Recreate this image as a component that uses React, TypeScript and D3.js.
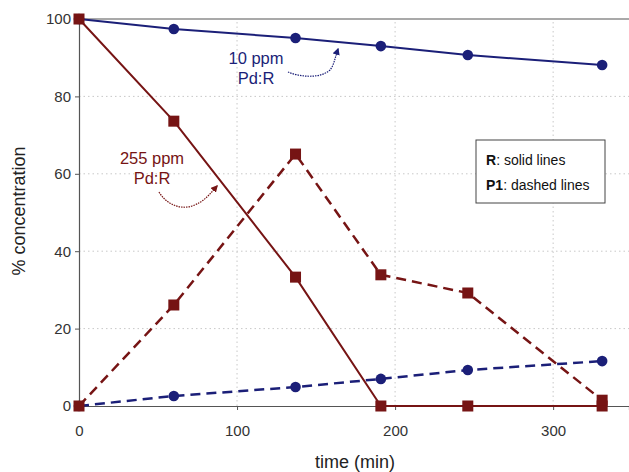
import React, { useEffect, useRef } from 'react';
import * as d3 from 'd3';

// sample times (min)
const times = [0, 60, 137, 191, 246, 331];

// % concentration for each series
const r10 = [100, 97.4, 95.1, 93.0, 90.7, 88.1];
const p1_10 = [0, 2.6, 4.9, 7.0, 9.3, 11.6];
const r255 = [100, 73.6, 33.3, 0, 0, 0];
const p1_255 = [0, 26.1, 65.1, 33.9, 29.2, 1.5];

const xTicks = [0, 100, 200, 300];
const yTicks = [0, 20, 40, 60, 80, 100];

const BLUE = '#1b1f78';
const RED = '#761414';

const App = () => {
    const ref = useRef<SVGSVGElement>(null);

    useEffect(() => {
        const svg = d3.select(ref.current);
        svg.selectAll('*').remove();

        const font = 'Liberation Sans, Arial, sans-serif';
        const x = d3.scaleLinear().domain([0, 348]).range([79, 629]);
        const y = d3.scaleLinear().domain([0, 100]).range([406, 19]);

        // gridlines
        const grid = svg.append('g').attr('stroke', '#c8c8c8').attr('stroke-dasharray', '1.5,3').attr('stroke-width', 1);
        xTicks.filter(t => t > 0).forEach(t => {
            grid.append('line').attr('x1', x(t)).attr('x2', x(t)).attr('y1', y(0)).attr('y2', y(100));
        });
        yTicks.filter(t => t > 0 && t < 100).forEach(t => {
            grid.append('line').attr('x1', x(0)).attr('x2', 629).attr('y1', y(t)).attr('y2', y(t));
        });

        // frame: top border
        svg.append('line').attr('x1', x(0)).attr('x2', 629).attr('y1', y(100)).attr('y2', y(100))
            .attr('stroke', '#555').attr('stroke-width', 1.2);

        // axes
        const xAxis = svg.append('g').attr('transform', `translate(0,${y(0)})`)
            .call(d3.axisBottom(x).tickValues(xTicks).tickSize(4).tickPadding(15));
        const yAxis = svg.append('g').attr('transform', `translate(${x(0)},0)`)
            .call(d3.axisLeft(y).tickValues(yTicks).tickSize(4).tickPadding(4));
        [xAxis, yAxis].forEach(a => {
            a.select('.domain').attr('stroke', '#555').attr('stroke-width', 1.2);
            a.selectAll('.tick line').attr('stroke', '#555');
            a.selectAll('text').attr('font-family', font).attr('font-size', 15).attr('fill', '#333');
        });

        svg.append('text').attr('x', 355).attr('y', 468).attr('text-anchor', 'middle')
            .attr('font-family', font).attr('font-size', 18).attr('fill', '#222').text('time (min)');
        svg.append('text').attr('transform', 'translate(25,211) rotate(-90)').attr('text-anchor', 'middle')
            .attr('font-family', font).attr('font-size', 18).attr('fill', '#222').text('% concentration');

        const line = d3.line<[number, number]>().x(d => x(d[0])).y(d => y(d[1]));

        const series = [
            { vals: r10, color: BLUE, dash: null, marker: 'circle', width: 2 },
            { vals: p1_10, color: BLUE, dash: '10,6', marker: 'circle', width: 2.5 },
            { vals: r255, color: RED, dash: null, marker: 'square', width: 2 },
            { vals: p1_255, color: RED, dash: '10,6', marker: 'square', width: 2.5 },
        ];

        series.forEach(s => {
            const pts = times.map((t, i) => [t, s.vals[i]] as [number, number]);
            svg.append('path').attr('d', line(pts)).attr('fill', 'none')
                .attr('stroke', s.color).attr('stroke-width', s.width)
                .attr('stroke-dasharray', s.dash);
            const g = svg.append('g').attr('fill', s.color);
            pts.forEach(p => {
                if (s.marker === 'circle') {
                    g.append('circle').attr('cx', x(p[0])).attr('cy', y(p[1])).attr('r', 5.3);
                } else {
                    g.append('rect').attr('x', x(p[0]) - 5.5).attr('y', y(p[1]) - 5.5).attr('width', 11).attr('height', 11);
                }
            });
        });

        // annotations
        const ann = (lines: string[], cx: number, cy: number, color: string) => {
            lines.forEach((t, i) => {
                svg.append('text').attr('x', cx).attr('y', cy + i * 20).attr('text-anchor', 'middle')
                    .attr('font-family', font).attr('font-size', 16.5).attr('fill', color).text(t);
            });
        };
        ann(['10 ppm', 'Pd:R'], 256, 64, BLUE);
        ann(['255 ppm', 'Pd:R'], 152, 164, RED);

        const defs = svg.append('defs');
        [['arrB', BLUE], ['arrR', RED]].forEach(([id, c]) => {
            defs.append('marker').attr('id', id).attr('viewBox', '0 0 10 10').attr('refX', 8).attr('refY', 5)
                .attr('markerWidth', 6).attr('markerHeight', 6).attr('orient', 'auto-start-reverse')
                .append('path').attr('d', 'M0,0 L10,5 L0,10 z').attr('fill', c);
        });
        svg.append('path').attr('d', 'M288,72 C300,77 320,79 330,70 C334,65 335,58 338,49')
            .attr('fill', 'none').attr('stroke', BLUE).attr('stroke-width', 1.2).attr('stroke-dasharray', '1.5,1')
            .attr('marker-end', 'url(#arrB)');
        svg.append('path').attr('d', 'M159,192 C166,204 180,210 192,206 C204,202 210,194 217,186')
            .attr('fill', 'none').attr('stroke', RED).attr('stroke-width', 1.2).attr('stroke-dasharray', '1.5,1')
            .attr('marker-end', 'url(#arrR)');

        // legend box
        const lg = svg.append('g');
        lg.append('rect').attr('x', 476).attr('y', 140).attr('width', 129).attr('height', 63)
            .attr('fill', '#fff').attr('stroke', '#444').attr('stroke-width', 1);
        [['R', ': solid lines', 165], ['P1', ': dashed lines', 190]].forEach(([b, t, yy]) => {
            const tx = lg.append('text').attr('x', 486).attr('y', yy as number)
                .attr('font-family', font).attr('font-size', 14).attr('fill', '#111');
            tx.append('tspan').attr('font-weight', 'bold').text(b as string);
            tx.append('tspan').text(t as string);
        });
    }, []);

    return (
        <svg ref={ref} width={629} height={472}
            style={{ position: 'absolute', left: 0, top: 0, background: '#fff' }} />
    );
};

export default App;
